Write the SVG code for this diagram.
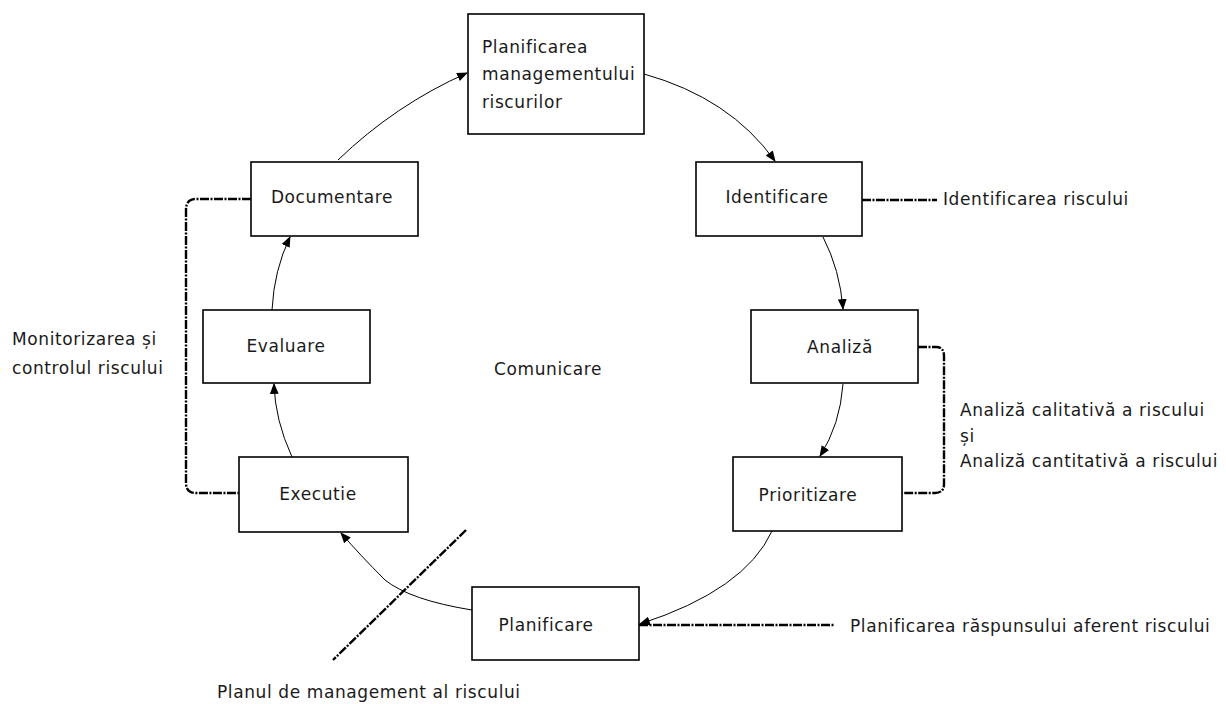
<svg xmlns="http://www.w3.org/2000/svg" width="1226" height="704" viewBox="0 0 1226 704">
  <defs>
    <marker id="arr" viewBox="0 0 10 10" refX="9" refY="5" markerWidth="11" markerHeight="11" markerUnits="userSpaceOnUse" orient="auto">
      <path d="M0,1 L10,5 L0,9 Z" fill="#000"/>
    </marker>
    <style>
      .box { fill: #fff; stroke: #000; stroke-width: 1.6; }
      .t { font-family: "DejaVu Sans", "Liberation Sans", sans-serif; font-size: 17px; letter-spacing: 0.6px; fill: #1a1a1a; }
      .flow { fill: none; stroke: #000; stroke-width: 1; marker-end: url(#arr); }
      .dash { fill: none; stroke: #000; stroke-width: 2.4; stroke-dasharray: 9 1.5 2 1.5; }
    </style>
  </defs>
  <rect width="1226" height="704" fill="#fff"/>

  <g id="connectors">
    <path class="flow" d="M338,160 Q395,105 467,73"/>
    <path class="flow" d="M644,74 Q730,98 775,161"/>
    <path class="flow" d="M823,237 Q840,270 843,309"/>
    <path class="flow" d="M843,384 Q840,425 820,456"/>
    <path class="flow" d="M772,531 Q745,590 640,624"/>
    <path class="flow" d="M472,610 Q410,600 385,580 Q360,555 341,533"/>
    <path class="flow" d="M292,457 Q275,420 274,384"/>
    <path class="flow" d="M272,310 Q274,270 290,237"/>
    <path class="dash" stroke-dasharray="12 3" d="M862,200 L937,200"/>
    <path class="dash" d="M918,347 L936,347 Q944,347 944,356 L944,484 Q944,493 935,493 L902,493"/>
    <path class="dash" d="M251,199 L196,199 Q186,199 186,210 L186,483 Q186,493 196,493 L239,493"/>
    <path class="dash" stroke-dasharray="5 1.5" d="M639,625 L834,625"/>
    <path class="dash" d="M466,530 L333,660"/>
  </g>

  <g id="n-plan-mgmt">
    <rect class="box" x="468" y="14" width="176" height="120"/>
    <text class="t" x="482" y="53">Planificarea</text>
    <text class="t" x="482" y="80">managementului</text>
    <text class="t" x="482" y="108">riscurilor</text>
  </g>
  <g id="n-identificare">
    <rect class="box" x="696" y="162" width="166" height="74"/>
    <text class="t" x="777" y="203" text-anchor="middle">Identificare</text>
  </g>
  <g id="n-analiza">
    <rect class="box" x="751" y="310" width="167" height="73"/>
    <text class="t" x="840" y="353" text-anchor="middle">Analiză</text>
  </g>
  <g id="n-prioritizare">
    <rect class="box" x="733" y="457" width="169" height="74"/>
    <text class="t" x="808" y="501" text-anchor="middle">Prioritizare</text>
  </g>
  <g id="n-planificare">
    <rect class="box" x="472" y="587" width="167" height="73"/>
    <text class="t" x="546" y="631" text-anchor="middle">Planificare</text>
  </g>
  <g id="n-executie">
    <rect class="box" x="239" y="457" width="169" height="75"/>
    <text class="t" x="318" y="500" text-anchor="middle">Executie</text>
  </g>
  <g id="n-evaluare">
    <rect class="box" x="203" y="310" width="167" height="73"/>
    <text class="t" x="286" y="352" text-anchor="middle">Evaluare</text>
  </g>
  <g id="n-documentare">
    <rect class="box" x="251" y="162" width="167" height="74"/>
    <text class="t" x="332" y="203" text-anchor="middle">Documentare</text>
  </g>

  <g id="labels">
    <text class="t" x="548" y="375" text-anchor="middle">Comunicare</text>
    <text class="t" x="943" y="205">Identificarea riscului</text>
    <text class="t" x="960" y="416">Analiză calitativă a riscului</text>
    <text class="t" x="960" y="442">și</text>
    <text class="t" x="960" y="467">Analiză cantitativă a riscului</text>
    <text class="t" x="850" y="632">Planificarea răspunsului aferent riscului</text>
    <text class="t" x="217" y="698">Planul de management al riscului</text>
    <text class="t" x="12" y="345">Monitorizarea și</text>
    <text class="t" x="12" y="374">controlul riscului</text>
  </g>
</svg>
